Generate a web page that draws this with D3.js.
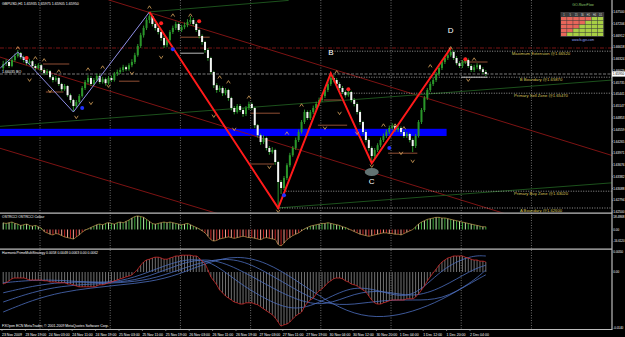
<!DOCTYPE html>
<html>
<head>
<meta charset="utf-8">
<script src="https://cdn.jsdelivr.net/npm/d3@7"></script>
<style>
  body { margin: 0; background: #000; }
  svg { display: block; }
  text { font-family: "Liberation Sans", Arial, sans-serif; }
</style>
</head>
<body>
<svg id="chart"></svg>
<script>
// GBPUSD H1 - prices are kept as pips above BASE (1.6000)
const BASE = 1.6;
const firstOpen = 610;
const closes = [
  620,625,615,630,640,647,637,630,622,627,
  615,610,617,605,597,602,587,580,585,570,
  557,565,542,530,515,525,540,560,575,585,
  570,580,590,575,582,572,585,580,595,600,
  605,612,607,617,625,642,665,692,710,730,
  740,720,710,700,685,667,680,700,710,720,
  705,712,717,725,730,720,705,690,675,655,
  635,600,567,555,560,547,555,535,510,500,
  515,505,495,510,520,510,467,442,425,435,
  410,400,405,375,325,310,335,367,392,410,
  430,450,475,500,485,500,510,520,530,540,
  555,570,585,580,570,560,550,542,550,530,
  520,500,475,450,430,410,390,405,417,430,
  440,450,460,465,455,460,450,440,445,430,
  415,440,475,505,535,555,570,580,595,610,
  625,635,642,650,635,622,615,625,630,615,
  605,612,617,607,600,595];
const highs = [
  628,632,630,636,646,655,650,641,634,633,
  630,620,622,620,609,607,605,592,590,588,
  573,570,567,546,533,530,545,565,580,592,
  590,585,596,594,588,586,590,591,600,606,
  611,618,616,622,632,648,670,698,716,736,
  750,744,726,715,704,690,686,705,716,726,
  724,718,724,732,740,735,724,708,694,678,
  660,638,603,572,566,564,560,558,538,515,
  520,520,510,515,526,524,513,470,446,442,
  438,415,412,408,378,330,340,372,398,415,
  436,456,480,506,504,505,516,526,536,546,
  560,576,597,592,585,575,565,554,556,553,
  535,524,504,478,455,434,414,410,422,436,
  446,456,466,472,470,466,464,455,450,448,
  434,445,480,510,540,560,576,586,600,616,
  630,640,648,660,654,640,627,630,636,634,
  620,618,622,620,612,605];
const lows = [
  604,615,610,612,626,636,632,624,617,618,
  610,604,606,600,592,593,582,574,576,565,
  552,553,538,523,500,510,520,536,555,570,
  565,566,576,570,571,566,568,575,576,590,
  595,600,602,603,612,620,638,660,686,705,
  722,714,704,694,678,660,662,676,695,705,
  700,700,707,712,720,715,700,684,668,648,
  628,594,560,548,550,540,542,528,504,494,
  496,500,488,490,505,505,460,436,418,420,
  404,393,396,368,260,295,305,330,362,388,
  405,425,446,470,480,480,495,505,515,525,
  535,550,565,574,565,554,545,536,538,524,
  514,494,468,444,424,403,372,385,400,412,
  425,435,445,455,450,450,445,435,435,424,
  400,410,436,470,500,530,550,565,575,590,
  605,620,630,638,630,617,610,610,620,610,
  600,600,607,602,595,590];

// first sub window (coloured oscillator)
const osc1 = [
  10,9,10,11,9,8,6,7,8,6,
  5,6,4,2,-3,-5,-7,-8,-6,-7,
  -9,-11,-12,-13,-14,-11,-8,-4,-1,1,
  3,5,7,8,7,9,10,9,8,10,
  11,10,12,14,17,19,20,19,18,15,
  12,9,8,9,10,11,10,11,10,9,
  8,7,8,9,7,5,3,1,-2,-5,
  -10,-15,-17,-16,-14,-13,-12,-11,-12,-13,
  -12,-11,-10,-11,-12,-12,-13,-14,-15,-13,
  -12,-13,-14,-15,-22,-24,-20,-15,-12,-9,
  -7,-5,-2,1,3,5,6,7,8,9,
  9,10,9,8,7,6,4,3,1,-1,
  -3,-5,-7,-8,-9,-10,-9,-8,-7,-6,
  -5,-5,-6,-6,-7,-7,-8,-6,-4,-2,
  0,4,8,11,13,15,16,17,18,18,
  17,17,16,15,14,13,12,11,10,9,
  8,7,6,5,4,4];

// second sub window, main line in units of 0.0001
const osc2 = [
  -30,-27,-22,-17,-15,-15,-15,-15,-17,-20,
  -20,-20,-20,-20,-22,-22,-25,-25,-25,-27,
  -27,-27,-30,-30,-32,-35,-37,-37,-37,-37,
  -37,-37,-35,-32,-32,-30,-27,-25,-22,-20,
  -17,-15,-12,-10,-7,0,7,17,25,30,
  32,35,37,37,35,32,32,35,37,40,
  40,42,42,42,42,40,40,35,27,20,
  5,-12,-22,-32,-45,-52,-60,-65,-70,-75,
  -77,-80,-80,-77,-77,-77,-80,-82,-87,-92,
  -97,-102,-107,-115,-125,-135,-132,-130,-125,-117,
  -110,-105,-100,-87,-77,-70,-65,-55,-47,-42,
  -35,-27,-22,-17,-15,-15,-17,-22,-25,-30,
  -32,-35,-40,-45,-50,-60,-70,-77,-80,-80,
  -77,-75,-72,-70,-70,-70,-70,-70,-67,-67,
  -67,-62,-55,-45,-35,-22,-12,-2,7,17,
  25,30,35,37,40,40,40,40,37,35,
  32,30,30,27,27,25];
// smoothed lines, read every 10 bars
const smoothBars = [0,10,20,30,40,50,60,70,80,90,100,110,120,130,140,150,160,165];
const smooth1 = [-27,-20,-20,-27,-25,0,30,35,-25,-70,-100,-70,-32,-50,-70,10,42,40];
const smooth2 = [-52,-35,-25,-25,-27,-12,20,37,10,-32,-70,-87,-52,-45,-65,-40,5,17];
const smooth3 = [-75,-50,-35,-30,-27,-20,5,30,35,0,-45,-82,-82,-70,-70,-70,-27,5];
const smooth4 = [-100,-70,-50,-40,-32,-25,-7,25,42,25,-20,-70,-107,-115,-100,-70,-27,-7];

// axes
const priceTicks = [1.67500,1.67206,1.66912,1.66618,1.66324,1.66029,1.65735,1.65441,1.65147,
  1.64853,1.64559,1.64265,1.63971,1.63676,1.63382,1.63088,1.62794,1.62500];
const osc1Ticks = [18.4868, 0, -16.612];
const osc2Ticks = [0.005, 0, -0.014];
const timeLabels = ["23 Nov 2009","23 Nov 19:00","24 Nov 03:00","24 Nov 11:00","24 Nov 19:00",
  "25 Nov 03:00","25 Nov 11:00","25 Nov 19:00","26 Nov 03:00","26 Nov 11:00","26 Nov 19:00",
  "27 Nov 03:00","27 Nov 11:00","27 Nov 19:00","30 Nov 04:00","30 Nov 12:00","30 Nov 20:00",
  "1 Dec 04:00","1 Dec 12:00","1 Dec 20:00","2 Dec 04:00"];
const gridBars = [13,37,61,85,109,133,157,181];

// chart objects: [bar, pips]
const abcdPoints = [[50,750],[94,260],[112,597],[126,372],[153,660]];
const earlyZigzag = [[-1,610],[5,650],[24,500],[50,750]];
const abcdLetters = ["B","C","D"];
const abcdLetterPos = [[112,650],[126,327],[153,705]];
const fibNames = ["Maximum Extension","B Boundary","Primary Sell Zone","Primary Buy Zone","A Boundary"];
const fibPips = [652,587,547,302,260];
const fibFromBar = [112,116,116,97,94];
const redTrends = [[[-1,638],[160,273]],[[-1,865],[160,501]],[[-1,410],[30,342]]];
const greenTrends = [[[-1,464],[160,553]],[[50,750],[98,779]],[[94,260],[165,299]]];
const brownLevels = [[14,23,620],[40,47,577],[15,21,550],[61,71,687],[85,95,497],[85,93,370],
  [108,118,467],[110,116,530],[132,142,397],[157,166,625]];
const greyLevels = [[61,69,647],[157,166,587]];
const fractalUp = [[5,660],[11,635],[14,630],[19,602],[29,607],[34,612],[50,762],[58,742],[64,742],
  [74,587],[77,575],[84,537],[97,447],[102,517],[114,600],[130,467],[134,467],[137,460],[146,615],
  [153,660],[161,632]];
const fractalDown = [[9,580],[16,552],[25,487],[30,522],[36,565],[44,597],[54,637],[72,490],[79,457],
  [91,362],[94,252],[110,460],[115,497],[121,447],[126,365],[136,397],[140,377],[159,580]];
const redSignals = [[8,635],[54,722],[67,727],[118,557],[158,632]];
const blueSignals = [[27,510],[58,657],[96,292],[132,410]];
const blueZoneBars = [-1,152];
const blueZonePips = [440,458];
const dashLevelPips = 660;
const bidPips = 595;

// RiverFlow panel
const flowHeaders = ["1","5","15","30","H1","H4","D1"];
const flowRedCounts = [5,4,3,2,1];

const W = 625, H = 337, axisX = 612;

const svg = d3.select("#chart").attr("width", W).attr("height", H);
svg.append("rect").attr("width", W).attr("height", H).attr("fill", "#000");

const x = d3.scaleLinear().domain([0, 208]).range([2, 610.4]);
const xc = i => x(i) + 1.2;
const yMain = d3.scaleLinear().domain([1.625, 1.675]).range([212, 12]);
const py = p => yMain(BASE + p / 10000);
const yOsc1 = d3.scaleLinear().domain([0, 18.4868]).range([229.5, 217]);
const yOsc2 = d3.scaleLinear().domain([-0.014, 0.005]).range([328, 252]);

const defs = svg.append("defs");
function addClip(id, y0, y1) {
  defs.append("clipPath").attr("id", id)
    .append("rect").attr("x", 0).attr("y", y0).attr("width", axisX).attr("height", y1 - y0);
}
addClip("clipMain", 0, 212.5);
addClip("clipOsc1", 214, 248.5);
addClip("clipOsc2", 250, 329);

// vertical grid through all windows
svg.append("g").selectAll("line").data(gridBars).join("line")
  .attr("x1", d => x(d)).attr("x2", d => x(d))
  .attr("y1", 0).attr("y2", 329)
  .attr("stroke", "#9a9a9a").attr("stroke-width", 0.7).attr("stroke-dasharray", "1,1.5");

// ---------- main window ----------
const main = svg.append("g").attr("clip-path", "url(#clipMain)");

main.append("rect")
  .attr("x", x(blueZoneBars[0])).attr("width", x(blueZoneBars[1]) - x(blueZoneBars[0]))
  .attr("y", py(blueZonePips[1])).attr("height", py(blueZonePips[0]) - py(blueZonePips[1]))
  .attr("fill", "#0000ff");

// trend rays extend to the right edge
function ray(t) {
  const [a, b] = t;
  const slope = (b[1] - a[1]) / (b[0] - a[0]);
  const end = 212;
  return [[x(a[0]), py(a[1])], [x(end), py(a[1] + slope * (end - a[0]))]];
}
main.selectAll(".rtrend").data(redTrends).join("path")
  .attr("d", d => d3.line()(ray(d)))
  .attr("stroke", "#8b1515").attr("stroke-width", 0.9).attr("fill", "none");
main.selectAll(".gtrend").data(greenTrends).join("path")
  .attr("d", (d, i) => i === 1 ? d3.line()(d.map(p => [x(p[0]), py(p[1])])) : d3.line()(ray(d)))
  .attr("stroke", "#1f5a1f").attr("stroke-width", 0.9).attr("fill", "none");

main.append("line")
  .attr("x1", 0).attr("x2", axisX).attr("y1", py(dashLevelPips)).attr("y2", py(dashLevelPips))
  .attr("stroke", "#9b1b1b").attr("stroke-width", 0.8).attr("stroke-dasharray", "4,1.5,1,1.5");
main.append("line")
  .attr("x1", 0).attr("x2", axisX).attr("y1", py(bidPips)).attr("y2", py(bidPips))
  .attr("stroke", "#9a9a9a").attr("stroke-width", 0.8).attr("stroke-dasharray", "3,1.5");

// fibonacci style levels
fibNames.forEach((name, i) => {
  main.append("line")
    .attr("x1", x(fibFromBar[i])).attr("x2", axisX)
    .attr("y1", py(fibPips[i])).attr("y2", py(fibPips[i]))
    .attr("stroke", "#d8d8d8").attr("stroke-width", 0.7).attr("stroke-dasharray", "1,1.5");
  main.append("text")
    .attr("x", 541).attr("y", py(fibPips[i]) + 4)
    .attr("text-anchor", "middle").attr("font-size", 4.2).attr("fill", "#d6c25a")
    .text(name + " @" + (BASE + fibPips[i] / 10000).toFixed(5));
});

main.selectAll(".brown").data(brownLevels).join("line")
  .attr("x1", d => x(d[0])).attr("x2", d => x(d[1]))
  .attr("y1", d => py(d[2])).attr("y2", d => py(d[2]))
  .attr("stroke", "#a0583a").attr("stroke-width", 0.9);
main.selectAll(".greylv").data(greyLevels).join("line")
  .attr("x1", d => x(d[0])).attr("x2", d => x(d[1]))
  .attr("y1", d => py(d[2])).attr("y2", d => py(d[2]))
  .attr("stroke", "#cfcfcf").attr("stroke-width", 0.9);

// candles
const bars = closes.map((c, i) => ({ i, o: i === 0 ? firstOpen : closes[i - 1], h: highs[i], l: lows[i], c }));
const candle = main.append("g").selectAll("g").data(bars).join("g");
candle.append("line")
  .attr("x1", d => xc(d.i)).attr("x2", d => xc(d.i))
  .attr("y1", d => py(d.h)).attr("y2", d => py(d.l))
  .attr("stroke", "#2fa32f").attr("stroke-width", 0.9);
candle.append("rect")
  .attr("x", d => xc(d.i) - 1).attr("width", 2)
  .attr("y", d => py(Math.max(d.o, d.c)))
  .attr("height", d => Math.max(1, Math.abs(py(d.o) - py(d.c))))
  .attr("fill", d => d.c >= d.o ? "#2a962a" : "#f4f4f4");

// zigzags
main.append("path")
  .attr("d", d3.line()(earlyZigzag.map(p => [xc(p[0]), py(p[1])])))
  .attr("stroke", "#8f8fe6").attr("stroke-width", 1).attr("fill", "none");
main.append("path")
  .attr("d", d3.line()(abcdPoints.map(p => [xc(p[0]), py(p[1])])))
  .attr("stroke", "#ff1a1a").attr("stroke-width", 2).attr("fill", "none");

// fractal arrows
main.selectAll(".fup").data(fractalUp).join("path")
  .attr("d", d => `M${xc(d[0]) - 1.8},${py(d[1]) + 1.4}L${xc(d[0])},${py(d[1]) - 1.4}L${xc(d[0]) + 1.8},${py(d[1]) + 1.4}`)
  .attr("stroke", "#d9a35c").attr("stroke-width", 0.8).attr("fill", "none");
main.selectAll(".fdn").data(fractalDown).join("path")
  .attr("d", d => `M${xc(d[0]) - 1.8},${py(d[1]) - 1.4}L${xc(d[0])},${py(d[1]) + 1.4}L${xc(d[0]) + 1.8},${py(d[1]) - 1.4}`)
  .attr("stroke", "#d9a35c").attr("stroke-width", 0.8).attr("fill", "none");

main.selectAll(".rsig").data(redSignals).join("circle")
  .attr("cx", d => xc(d[0])).attr("cy", d => py(d[1])).attr("r", 2).attr("fill", "#ff2020");
main.selectAll(".bsig").data(blueSignals).join("circle")
  .attr("cx", d => xc(d[0])).attr("cy", d => py(d[1])).attr("r", 2).attr("fill", "#2030ff");

// C marker ellipse + letters
main.append("ellipse")
  .attr("cx", xc(126)).attr("cy", py(350)).attr("rx", 7).attr("ry", 4).attr("fill", "#627272");
main.selectAll(".letter").data(abcdLetters).join("text")
  .attr("x", (d, i) => xc(abcdLetterPos[i][0])).attr("y", (d, i) => py(abcdLetterPos[i][1]) + 3)
  .attr("text-anchor", "middle").attr("font-size", 8).attr("fill", "#fff")
  .text(d => d);

// text objects
svg.append("text").attr("x", 2).attr("y", 5).attr("font-size", 3.6).attr("fill", "#fff")
  .text("GBPUSD,H1  1.65935 1.65975 1.65905 1.65950");
svg.append("text").attr("x", 2).attr("y", 73).attr("font-size", 3.6).attr("fill", "#fff")
  .text("1.66035 BO");

// RiverFlow table
const flow = svg.append("g");
const fx0 = 561, fy0 = 17, cw = 6.1, ch = 3.9;
flow.append("text").attr("x", 583).attr("y", 6).attr("text-anchor", "middle")
  .attr("font-size", 3.4).attr("fill", "#8fcf6f").text("GO-RiverFlow");
flow.append("rect").attr("x", fx0 - 0.5).attr("y", fy0 - 5).attr("width", cw * 7 + 1)
  .attr("height", ch * 5 + 5.5).attr("fill", "#3a3a3a");
flow.selectAll(".hdr").data(flowHeaders).join("text")
  .attr("x", (d, i) => fx0 + i * cw + cw / 2).attr("y", fy0 - 1.5)
  .attr("text-anchor", "middle").attr("font-size", 2.6).attr("fill", "#ddd").text(d => d);
flowRedCounts.forEach((n, r) => {
  flowHeaders.forEach((h, c) => {
    flow.append("rect")
      .attr("x", fx0 + c * cw).attr("y", fy0 + r * ch)
      .attr("width", cw - 0.5).attr("height", ch - 0.5)
      .attr("fill", c < n ? "#e8665a" : "#a8cf45");
  });
});
flow.append("text").attr("x", 583).attr("y", fy0 + ch * 5 + 4).attr("text-anchor", "middle")
  .attr("font-size", 3).attr("fill", "#9fb0ff").text("www.fx-gps.com");

// ---------- first sub window ----------
const o1 = svg.append("g").attr("clip-path", "url(#clipOsc1)");
o1.selectAll("line").data(osc1).join("line")
  .attr("x1", (d, i) => xc(i)).attr("x2", (d, i) => xc(i))
  .attr("y1", yOsc1(0)).attr("y2", d => yOsc1(d))
  .attr("stroke", (d, i) => d >= 0 ? (i % 2 ? "#3fae3f" : "#b8e8a8") : (i % 2 ? "#c42424" : "#f0a090"))
  .attr("stroke-width", 1);
o1.append("path")
  .attr("d", d3.line().x((d, i) => xc(i)).y(d => yOsc1(d)).curve(d3.curveMonotoneX)(osc1))
  .attr("stroke", "#e2b45e").attr("stroke-width", 0.6).attr("fill", "none");
svg.append("text").attr("x", 2).attr("y", 218).attr("font-size", 3.4).attr("fill", "#fff")
  .text("OSTRCCI  OSTRCCI Colour");

// ---------- second sub window ----------
const o2 = svg.append("g").attr("clip-path", "url(#clipOsc2)");
o2.selectAll("line").data(osc2).join("line")
  .attr("x1", (d, i) => xc(i)).attr("x2", (d, i) => xc(i))
  .attr("y1", yOsc2(0)).attr("y2", d => yOsc2(d / 10000))
  .attr("stroke", "#a0a0a0").attr("stroke-width", 0.7);
[smooth1, smooth2, smooth3, smooth4].forEach(s => {
  o2.append("path")
    .attr("d", d3.line().x((d, i) => xc(smoothBars[i])).y(d => yOsc2(d / 10000)).curve(d3.curveBasis)(s))
    .attr("stroke", "#4d6fbf").attr("stroke-width", 0.8).attr("fill", "none");
});
o2.append("path")
  .attr("d", d3.line().x((d, i) => xc(i)).y(d => yOsc2(d / 10000)).curve(d3.curveMonotoneX)(osc2))
  .attr("stroke", "#d42a2a").attr("stroke-width", 0.8).attr("fill", "none");
svg.append("text").attr("x", 2).attr("y", 254).attr("font-size", 3.4).attr("fill", "#fff")
  .text("HarmonicPrimeMultiStrategy 0.0058 0.0048 0.0063 0.00 0.0062");
svg.append("text").attr("x", 2).attr("y", 327).attr("font-size", 3.5).attr("fill", "#fff")
  .text("FXOpen ECN MetaTrader, © 2001-2009 MetaQuotes Software Corp.");

// ---------- frames & axes ----------
const frame = svg.append("g").attr("stroke", "#bdbdbd").attr("stroke-width", 1.2);
frame.append("line").attr("x1", 0).attr("x2", axisX).attr("y1", 213.2).attr("y2", 213.2);
frame.append("line").attr("x1", 0).attr("x2", axisX).attr("y1", 249.2).attr("y2", 249.2);
frame.append("line").attr("x1", 0).attr("x2", axisX).attr("y1", 329.5).attr("y2", 329.5);
frame.append("line").attr("x1", axisX).attr("x2", axisX).attr("y1", 0).attr("y2", 330);

// right axis labels squeezed into the 12px strip
const labelW = 11.4;
const axisG = svg.append("g").attr("font-size", 3.2).attr("fill", "#fff");
axisG.selectAll(".pt").data(priceTicks).join("text")
  .attr("x", axisX + 1.2).attr("y", d => yMain(d) + 1.1)
  .attr("textLength", labelW).attr("lengthAdjust", "spacingAndGlyphs")
  .text(d => d.toFixed(5));
axisG.selectAll(".ptk").data(priceTicks).join("line")
  .attr("x1", axisX).attr("x2", axisX + 1).attr("y1", d => yMain(d)).attr("y2", d => yMain(d))
  .attr("stroke", "#bdbdbd").attr("stroke-width", 0.6);
axisG.selectAll(".o1t").data(osc1Ticks).join("text")
  .attr("x", axisX + 1.2).attr("y", d => yOsc1(d) + 1.1)
  .attr("textLength", d => d === 0 ? 6 : labelW).attr("lengthAdjust", "spacingAndGlyphs")
  .text(d => d === 0 ? "0.00" : d.toFixed(4));
axisG.selectAll(".o2t").data(osc2Ticks).join("text")
  .attr("x", axisX + 1.2).attr("y", d => yOsc2(d) + 1.1)
  .attr("textLength", d => d === 0 ? 6 : 10).attr("lengthAdjust", "spacingAndGlyphs")
  .text(d => d === 0 ? "0.00" : d.toFixed(4));

// current price box
svg.append("rect").attr("x", axisX).attr("y", py(bidPips) - 2.6).attr("width", 13).attr("height", 5.2).attr("fill", "#fff");
svg.append("text").attr("x", axisX + 0.8).attr("y", py(bidPips) + 1.2).attr("font-size", 3.2).attr("fill", "#000")
  .attr("textLength", labelW).attr("lengthAdjust", "spacingAndGlyphs")
  .text((BASE + bidPips / 10000).toFixed(5));

// time axis
svg.append("g").selectAll("text").data(timeLabels).join("text")
  .attr("x", (d, k) => x(k * 8)).attr("y", 335.5)
  .attr("font-size", 3.5).attr("fill", "#fff").text(d => d);
svg.append("g").selectAll("line").data(timeLabels).join("line")
  .attr("x1", (d, k) => x(k * 8)).attr("x2", (d, k) => x(k * 8)).attr("y1", 329.5).attr("y2", 331)
  .attr("stroke", "#bdbdbd").attr("stroke-width", 0.6);
</script>
</body>
</html>
